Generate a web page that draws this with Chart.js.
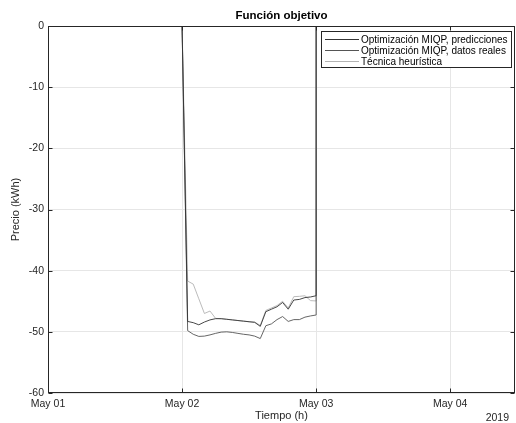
<!DOCTYPE html>
<html>
<head>
<meta charset="utf-8">
<script src="https://cdn.jsdelivr.net/npm/chart.js@4/dist/chart.umd.min.js"></script>
<style>
    body { margin: 0; background: #fff; }
    canvas { display: block; }
</style>
</head>
<body>
<canvas id="myChart" width="516" height="423"></canvas>
<script>
const dayLabels = ['May 01', 'May 02', 'May 03', 'May 04'];
const yTicks = [0, -10, -20, -30, -40, -50, -60];
const seriesLabels = [
    'Optimización MIQP, predicciones',
    'Optimización MIQP, datos reales',
    'Técnica heurística'
];

// hourly values, May 02 01:00 .. May 03 00:00 (0 outside that window)
const miqpPred = [-48.3, -48.5, -48.85, -48.4, -48.05, -47.85, -47.85, -47.95, -48.05, -48.15, -48.25, -48.35,
    -48.45, -49.1, -46.7, -46.3, -45.9, -45.2, -46.3, -44.8, -44.7, -44.4, -44.3, -44.1];
const miqpReal = [-49.8, -50.4, -50.75, -50.7, -50.5, -50.25, -50.05, -50.0, -50.1, -50.25, -50.4, -50.5,
    -50.7, -51.1, -49.0, -48.7, -48.0, -47.5, -48.3, -48.0, -48.0, -47.6, -47.4, -47.25];
const heuristica = [-41.7, -42.2, -44.6, -47.0, -46.6, -47.8, -47.85, -47.95, -48.05, -48.15, -48.25, -48.35,
    -48.4, -48.95, -46.5, -46.1, -45.7, -45.0, -46.1, -44.25, -44.2, -44.1, -44.9, -44.95];

const startHour = 24;   // May 02 00:00
const endHour = 48;     // May 03 00:00
const axisEnd = 83.6;   // hours shown from May 01 00:00

const toPoints = (vals) => [
    {x: 0, y: 0},
    {x: startHour, y: 0},
    ...vals.map((v, i) => ({x: startHour + 1 + i, y: v})),
    {x: endHour, y: 0},
    {x: axisEnd, y: 0}
];

const font = "'Liberation Sans', Arial, Helvetica, sans-serif";
const colors = ['#333333', '#555555', '#b3b3b3'];

const matlabDecor = {
    id: 'matlabDecor',
    afterDraw(chart) {
        const {ctx, chartArea: a, scales: {x, y}} = chart;
        ctx.save();
        ctx.strokeStyle = '#262626';
        ctx.lineWidth = 1;
        const L = a.left + 0.5, R = a.right - 0.5, T = a.top + 0.5, B = a.bottom - 0.5;
        ctx.strokeRect(L, T, R - L, B - T);
        // inward tick marks
        ctx.beginPath();
        x.ticks.forEach(t => {
            const px = Math.round(x.getPixelForValue(t.value)) + 0.5;
            ctx.moveTo(px, T); ctx.lineTo(px, T + 4);
            ctx.moveTo(px, B); ctx.lineTo(px, B - 4);
        });
        y.ticks.forEach(t => {
            const py = Math.round(y.getPixelForValue(t.value)) + 0.5;
            ctx.moveTo(L, py); ctx.lineTo(L + 4, py);
            ctx.moveTo(R, py); ctx.lineTo(R - 4, py);
        });
        ctx.stroke();

        // title
        ctx.fillStyle = '#000';
        ctx.font = `bold 11.5px ${font}`;
        ctx.textAlign = 'center';
        ctx.textBaseline = 'alphabetic';
        ctx.fillText('Función objetivo', (a.left + a.right) / 2, 18.5);

        // year label
        ctx.fillStyle = '#262626';
        ctx.font = `10.5px ${font}`;
        ctx.textAlign = 'right';
        ctx.fillText('2019', 509, 421);

        // legend
        const bx = 321.5, by = 31.5, bw = 190, bh = 36;
        ctx.fillStyle = '#fff';
        ctx.fillRect(bx, by, bw, bh);
        ctx.strokeStyle = '#262626';
        ctx.strokeRect(bx, by, bw, bh);
        ctx.font = `10px ${font}`;
        ctx.textAlign = 'left';
        ctx.textBaseline = 'middle';
        chart.data.datasets.forEach((ds, i) => {
            const ly = 39.5 + i * 11;
            ctx.strokeStyle = ds.borderColor;
            ctx.lineWidth = 1;
            ctx.beginPath();
            ctx.moveTo(325, ly); ctx.lineTo(359, ly);
            ctx.stroke();
            ctx.fillStyle = '#000';
            ctx.fillText(ds.label, 361, ly + 0.5);
        });
        ctx.restore();
    }
};

const makeDataset = (label, vals, color) => ({
    label: label,
    data: toPoints(vals),
    borderColor: color,
    backgroundColor: color,
    borderWidth: 0.9,
    pointRadius: 0,
    tension: 0,
    fill: false
});

const myChart = new Chart(document.getElementById('myChart'), {
    type: 'line',
    data: {
        datasets: [
            makeDataset(seriesLabels[0], miqpPred, colors[0]),
            makeDataset(seriesLabels[1], miqpReal, colors[1]),
            makeDataset(seriesLabels[2], heuristica, colors[2])
        ]
    },
    options: {
        responsive: false,
        animation: false,
        devicePixelRatio: 1,
        layout: { padding: { top: 26, right: 1, left: 0, bottom: 0 } },
        plugins: {
            legend: { display: false },
            title: { display: false },
            tooltip: { enabled: false }
        },
        scales: {
            x: {
                type: 'linear',
                min: 0,
                max: axisEnd,
                afterBuildTicks: (scale) => {
                    scale.ticks = dayLabels.map((_, i) => ({value: i * 24}));
                },
                afterFit: (scale) => { scale.height = 30; },
                ticks: {
                    callback: (value) => dayLabels[Math.round(value / 24)],
                    color: '#262626',
                    font: { family: font, size: 10.5 },
                    padding: 5,
                    maxRotation: 0
                },
                grid: { color: '#e6e6e6', drawTicks: false },
                border: { display: false },
                title: {
                    display: true,
                    text: 'Tiempo (h)',
                    color: '#262626',
                    font: { family: font, size: 11 },
                    padding: { top: 0, bottom: 0 }
                }
            },
            y: {
                min: -60,
                max: 0,
                afterBuildTicks: (scale) => {
                    scale.ticks = yTicks.map(v => ({value: v}));
                },
                afterFit: (scale) => { scale.width = 48; },
                ticks: {
                    color: '#262626',
                    font: { family: font, size: 10.5 },
                    padding: 4
                },
                grid: { color: '#e6e6e6', drawTicks: false },
                border: { display: false },
                title: {
                    display: true,
                    text: 'Precio (kWh)',
                    color: '#262626',
                    font: { family: font, size: 11 },
                    padding: { top: 9, bottom: 0 }
                }
            }
        }
    },
    plugins: [matlabDecor]
});
</script>
</body>
</html>
